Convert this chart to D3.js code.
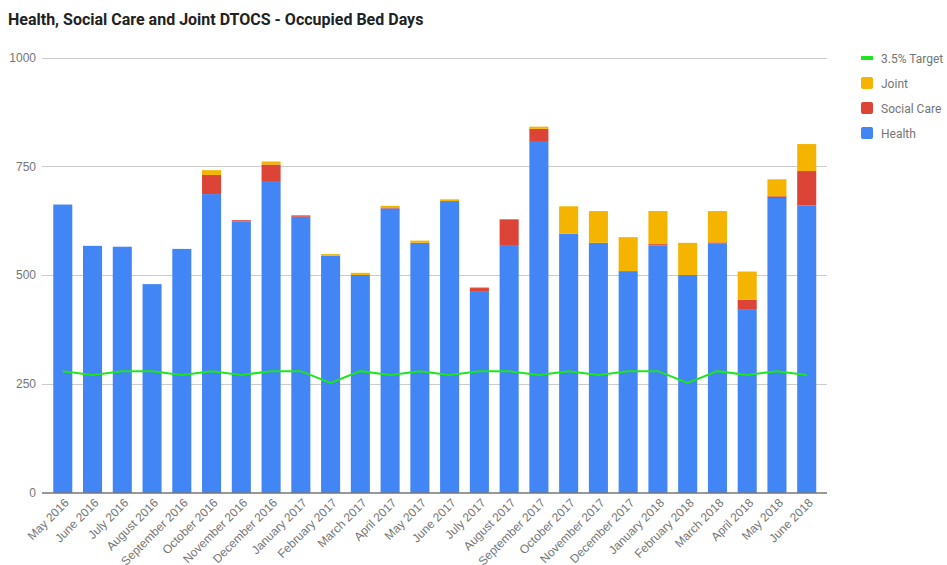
<!DOCTYPE html>
<html lang="en">
<head>
<meta charset="UTF-8">
<title>Health, Social Care and Joint DTOCS - Occupied Bed Days</title>
<style>
  body { margin: 0; background: #fff; }
  svg { display: block; font-family: Roboto, Arial, sans-serif; }
  .title { font-size: 16px; font-weight: bold; fill: #222; }
  .tick text { fill: #757575; font-size: 12px; }
  .grid line { stroke: #ccc; stroke-width: 1px; }
  .legend text { fill: #757575; font-size: 12px; }
</style>
</head>
<body>
<div id="chart"></div>
<script src="https://cdnjs.cloudflare.com/ajax/libs/d3/7.8.5/d3.min.js"></script>
<script>
  var months = ['May 2016', 'June 2016', 'July 2016', 'August 2016', 'September 2016', 'October 2016',
    'November 2016', 'December 2016', 'January 2017', 'February 2017', 'March 2017', 'April 2017',
    'May 2017', 'June 2017', 'July 2017', 'August 2017', 'September 2017', 'October 2017',
    'November 2017', 'December 2017', 'January 2018', 'February 2018', 'March 2018', 'April 2018',
    'May 2018', 'June 2018'];
  var health = [662, 567, 565, 479, 560, 686, 623, 716, 634, 544, 500, 653, 574, 670, 463, 567, 806,
    595, 574, 509, 568, 500, 573, 420, 677, 660];
  var socialCare = [0, 0, 0, 0, 0, 44, 3, 38, 3, 0, 0, 1, 0, 0, 7, 61, 30, 0, 0, 0, 3, 0, 2, 23, 4, 79];
  var joint = [0, 0, 0, 0, 0, 11, 0, 7, 0, 4, 5, 5, 5, 4, 2, 0, 5, 63, 73, 78, 76, 74, 72, 65, 39, 62];
  var target = [279, 270, 279, 279, 270, 279, 270, 279, 279, 252, 279, 270, 279, 270, 279, 279, 270,
    279, 270, 279, 279, 252, 279, 270, 279, 270];
  var yTicks = [0, 250, 500, 750, 1000];

  var width = 947, height = 565;
  var plot = {left: 42, right: 827, top: 57.5, bottom: 492.5};

  var svg = d3.select('#chart').append('svg')
    .attr('width', width)
    .attr('height', height);

  svg.append('text')
    .attr('class', 'title')
    .attr('x', 8)
    .attr('y', 25)
    .text('Health, Social Care and Joint DTOCS - Occupied Bed Days');

  var x = d3.scaleBand()
    .domain(months)
    .range([47.9, 821.6])
    .paddingInner(0.36)
    .paddingOuter(0.18);

  var y = d3.scaleLinear()
    .domain([0, 1000])
    .range([plot.bottom, plot.top]);

  // gridlines
  var grid = svg.append('g').attr('class', 'grid');
  grid.selectAll('line')
    .data(yTicks.filter(function(d) { return d > 0; }))
    .enter()
    .append('line')
    .attr('x1', plot.left)
    .attr('x2', plot.right)
    .attr('y1', function(d) { return Math.round(y(d)) + 0.5; })
    .attr('y2', function(d) { return Math.round(y(d)) + 0.5; });

  var yAxis = svg.append('g')
    .attr('transform', 'translate(' + (plot.left - 6) + ',0)')
    .call(d3.axisLeft(y).tickValues(yTicks).tickFormat(d3.format('d')).tickSize(0).tickPadding(0));
  yAxis.select('.domain').remove();

  // stacked bars
  var keys = ['health', 'socialCare', 'joint'];
  var colors = {health: '#4285f4', socialCare: '#db4437', joint: '#f4b400'};
  var rows = months.map(function(m, i) {
    return {month: m, health: health[i], socialCare: socialCare[i], joint: joint[i]};
  });
  var stacked = d3.stack().keys(keys)(rows);

  svg.append('g')
    .selectAll('g')
    .data(stacked)
    .enter()
    .append('g')
    .attr('fill', function(d) { return colors[d.key]; })
    .selectAll('rect')
    .data(function(d) { return d; })
    .enter()
    .append('rect')
    .attr('x', function(d) { return x(d.data.month); })
    .attr('width', x.bandwidth())
    .attr('y', function(d) { return y(d[1]); })
    .attr('height', function(d) { return Math.max(0, y(d[0]) - y(d[1])); });

  // baseline
  svg.append('line')
    .attr('x1', plot.left)
    .attr('x2', plot.right)
    .attr('y1', plot.bottom + 0.5)
    .attr('y2', plot.bottom + 0.5)
    .attr('stroke', '#333')
    .attr('stroke-width', 1);

  // target line
  var line = d3.line()
    .x(function(d, i) { return x(months[i]) + x.bandwidth() / 2; })
    .y(function(d) { return y(d); });

  svg.append('path')
    .datum(target)
    .attr('fill', 'none')
    .attr('stroke', '#1ee61e')
    .attr('stroke-width', 2)
    .attr('d', line);

  // x axis labels
  var xAxis = svg.append('g')
    .attr('transform', 'translate(0,' + plot.bottom + ')')
    .call(d3.axisBottom(x).tickSize(0).tickPadding(0));
  xAxis.select('.domain').remove();
  xAxis.selectAll('.tick text')
    .attr('text-anchor', 'end')
    .attr('dy', 0)
    .attr('transform', 'translate(7,11) rotate(-45)');

  // legend
  var legendItems = [
    {label: '3.5% Target', color: '#1ee61e', type: 'line'},
    {label: 'Joint', color: colors.joint},
    {label: 'Social Care', color: colors.socialCare},
    {label: 'Health', color: colors.health}
  ];
  var legend = svg.append('g').attr('class', 'legend');
  var item = legend.selectAll('g')
    .data(legendItems)
    .enter()
    .append('g')
    .attr('transform', function(d, i) { return 'translate(861,' + (58 + i * 25) + ')'; });
  item.append('rect')
    .attr('x', 0)
    .attr('y', function(d) { return d.type === 'line' ? -2 : -6; })
    .attr('width', 12)
    .attr('height', function(d) { return d.type === 'line' ? 4 : 12; })
    .attr('rx', function(d) { return d.type === 'line' ? 0 : 2; })
    .attr('fill', function(d) { return d.color; });
  item.append('text')
    .attr('x', 20)
    .attr('y', 4.5)
    .text(function(d) { return d.label; });
</script>
</body>
</html>
